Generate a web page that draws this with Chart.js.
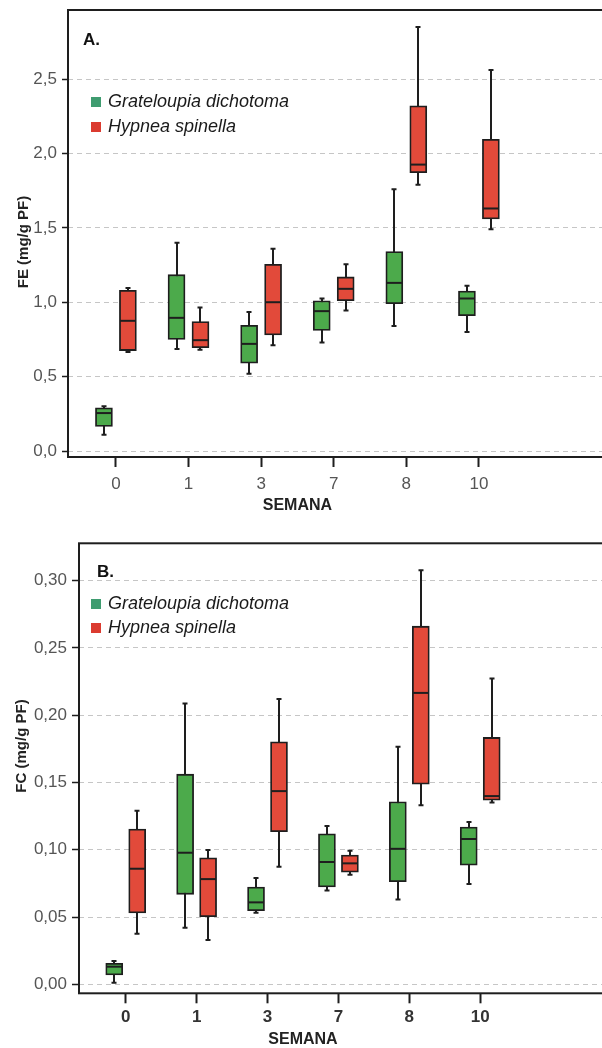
<!DOCTYPE html>
<html><head><meta charset="utf-8">
<script src="https://cdn.jsdelivr.net/npm/chart.js@4"></script>
<style>
html,body{margin:0;padding:0;background:#fff;overflow:hidden;}
#wrap{position:relative;width:602px;height:1048px;overflow:hidden;background:#fff;}
canvas{position:absolute;left:0;}
#cA{top:0;}
#cB{top:520px;}
</style></head><body>
<div id="wrap"><canvas id="cA" width="620" height="520"></canvas><canvas id="cB" width="620" height="528"></canvas></div>
<script>
// ---- data ----
const semanas = ['0', '1', '3', '7', '8', '10'];
const speciesNames = ['Grateloupia dichotoma', 'Hypnea spinella'];

// Panel A: FE (mg/g PF)
const grateloupiaFE_min = [0.11, 0.685, 0.52, 0.73, 0.84, 0.80];
const grateloupiaFE_q1  = [0.165, 0.75, 0.59, 0.81, 0.99, 0.91];
const grateloupiaFE_med = [0.255, 0.895, 0.72, 0.94, 1.13, 1.025];
const grateloupiaFE_q3  = [0.29, 1.185, 0.845, 1.01, 1.34, 1.075];
const grateloupiaFE_max = [0.30, 1.40, 0.935, 1.025, 1.76, 1.11];

const hypneaFE_min = [0.665, 0.68, 0.71, 0.945, 1.79, 1.49];
const hypneaFE_q1  = [0.675, 0.695, 0.78, 1.01, 1.87, 1.56];
const hypneaFE_med = [0.875, 0.745, 1.0, 1.09, 1.925, 1.63];
const hypneaFE_q3  = [1.08, 0.87, 1.255, 1.17, 2.32, 2.095];
const hypneaFE_max = [1.095, 0.965, 1.36, 1.255, 2.85, 2.56];

// Panel B: FC (mg/g PF)
const grateloupiaFC_min = [0.0012, 0.042, 0.0532, 0.0698, 0.0631, 0.0745];
const grateloupiaFC_q1  = [0.0069, 0.0669, 0.0547, 0.0723, 0.0762, 0.0886];
const grateloupiaFC_med = [0.0131, 0.0978, 0.0609, 0.0909, 0.1007, 0.108];
const grateloupiaFC_q3  = [0.0156, 0.1562, 0.0723, 0.1119, 0.1357, 0.1169];
const grateloupiaFC_max = [0.0173, 0.2088, 0.079, 0.1176, 0.1765, 0.1206];

const hypneaFC_min = [0.0376, 0.0329, 0.0874, 0.0814, 0.133, 0.1352];
const hypneaFC_q1  = [0.053, 0.0502, 0.1134, 0.0834, 0.1488, 0.1369];
const hypneaFC_med = [0.0859, 0.0782, 0.1436, 0.0899, 0.2166, 0.1399];
const hypneaFC_q3  = [0.1154, 0.094, 0.1802, 0.0961, 0.2662, 0.1835];
const hypneaFC_max = [0.129, 0.0998, 0.212, 0.0993, 0.3078, 0.2273];

const feTicks = [0, 0.5, 1.0, 1.5, 2.0, 2.5];
const fcTicks = [0, 0.05, 0.10, 0.15, 0.20, 0.25, 0.30];

// ---- styles ----
const GREEN = '#4caa4b', RED = '#e24a3a';
const LEG_GREEN = '#3f9c70', LEG_RED = '#db3b30';
const DARK = '#1e1e1e';
const FONT = '"Liberation Sans", Arial, sans-serif';

function boxSet(label, color, off, mn, q1, med, q3, mx) {
  return {
    label: label,
    data: semanas.map((s, i) => ({x: i + off, y: [q1[i], q3[i]]})),
    stats: {min: mn, med: med, max: mx, q1: q1, q3: q3, off: off},
    backgroundColor: color,
    borderColor: DARK,
    borderWidth: 1.8,
    borderSkipped: false,
    grouped: false,
    barThickness: 17
  };
}

const boxPlugin = {
  id: 'boxwhisk',
  beforeDatasetsDraw(chart) {
    const ctx = chart.ctx, xs = chart.scales.x, ys = chart.scales.y;
    ctx.save();
    ctx.strokeStyle = DARK; ctx.lineWidth = 2;
    chart.data.datasets.forEach(ds => {
      const st = ds.stats;
      semanas.forEach((s, i) => {
        const x = Math.round(xs.getPixelForValue(i + st.off));
        ctx.beginPath();
        ctx.moveTo(x, ys.getPixelForValue(st.min[i]));
        ctx.lineTo(x, ys.getPixelForValue(st.max[i]));
        ctx.stroke();
      });
    });
    ctx.restore();
  },
  afterDatasetsDraw(chart) {
    const ctx = chart.ctx, xs = chart.scales.x, ys = chart.scales.y;
    ctx.save();
    ctx.strokeStyle = DARK;
    chart.data.datasets.forEach(ds => {
      const st = ds.stats;
      semanas.forEach((s, i) => {
        const x = Math.round(xs.getPixelForValue(i + st.off));
        ctx.lineWidth = 2;
        const ymed = ys.getPixelForValue(st.med[i]);
        ctx.beginPath(); ctx.moveTo(x - 8, ymed); ctx.lineTo(x + 8, ymed); ctx.stroke();
        const ymax = ys.getPixelForValue(st.max[i]);
        const ymin = ys.getPixelForValue(st.min[i]);
        ctx.beginPath();
        ctx.moveTo(x - 2.5, ymax); ctx.lineTo(x + 2.5, ymax);
        ctx.moveTo(x - 2.5, ymin); ctx.lineTo(x + 2.5, ymin);
        ctx.stroke();
      });
    });
    ctx.restore();
  }
};

function decoPlugin(o) {
  return {
    id: 'deco',
    afterDraw(chart) {
      const ctx = chart.ctx, a = chart.chartArea, xs = chart.scales.x;
      ctx.save();
      // frame
      ctx.strokeStyle = DARK; ctx.lineWidth = 2;
      ctx.strokeRect(a.left, a.top, a.right - a.left, a.bottom - a.top);
      // panel letter
      ctx.fillStyle = '#111';
      ctx.font = 'bold 17px ' + FONT;
      ctx.textBaseline = 'alphabetic'; ctx.textAlign = 'left';
      ctx.fillText(o.letter, o.letterX, o.letterY);
      // legend
      const cols = [LEG_GREEN, LEG_RED];
      ctx.font = 'italic 18px ' + FONT;
      ctx.textBaseline = 'middle';
      chart.data.datasets.forEach((ds, k) => {
        const cy = o.legY + k * o.legGap;
        ctx.fillStyle = cols[k];
        ctx.fillRect(91, cy - 5, 10, 10);
        ctx.fillStyle = '#1a1a1a';
        ctx.fillText(ds.label, 108, cy);
      });
      // x title
      ctx.font = 'bold 16px ' + FONT;
      ctx.textAlign = 'center';
      ctx.fillStyle = '#222';
      ctx.fillText('SEMANA', xs.getPixelForValue(2.5), a.bottom + o.xTitleDy);
      // y title
      ctx.translate(o.yTitleX, o.yTitleY);
      ctx.rotate(-Math.PI / 2);
      ctx.font = 'bold 15px ' + FONT;
      ctx.fillText(o.yTitle, 0, 0);
      ctx.restore();
    }
  };
}

function makePanel(id, o) {
  new Chart(document.getElementById(id), {
    type: 'bar',
    data: {
      datasets: [
        boxSet(speciesNames[0], GREEN, -o.off, o.g[0], o.g[1], o.g[2], o.g[3], o.g[4]),
        boxSet(speciesNames[1], RED, o.off, o.h[0], o.h[1], o.h[2], o.h[3], o.h[4])
      ]
    },
    options: {
      responsive: false,
      animation: false,
      events: [],
      layout: {padding: {top: o.top, left: 0, right: 0, bottom: 0}},
      plugins: {legend: {display: false}, tooltip: {enabled: false}},
      scales: {
        x: {
          type: 'linear',
          min: o.xMin, max: o.xMax,
          offset: false,
          afterBuildTicks: s => { s.ticks = semanas.map((t, i) => ({value: i})); },
          afterFit: s => { s.height = o.xH; s.paddingLeft = 0; s.paddingRight = 0; },
          grid: {offset: false, drawOnChartArea: false, drawTicks: true, tickLength: 10, tickColor: DARK, tickWidth: 2},
          border: {display: false},
          ticks: {
            autoSkip: false, maxRotation: 0, padding: o.xPad,
            color: o.xTickColor,
            font: {family: FONT, size: 17, weight: o.xTickWeight},
            callback: v => semanas[v]
          }
        },
        y: {
          min: o.yMin, max: o.yMax,
          afterBuildTicks: s => { s.ticks = o.yTicks.map(v => ({value: v})); },
          afterFit: s => { s.width = o.yW; s.paddingTop = 0; s.paddingBottom = 0; },
          grid: {color: '#c6c6c6', lineWidth: 1, drawTicks: true, tickLength: o.yTickLen, tickColor: DARK, tickWidth: 1.5, tickBorderDash: []},
          border: {display: false, dash: [5, 4]},
          ticks: {
            autoSkip: false, padding: 5,
            color: '#555',
            font: {family: FONT, size: 17},
            callback: v => v.toFixed(o.dec).replace('.', ',')
          }
        }
      }
    },
    plugins: [boxPlugin, decoPlugin(o)]
  });
}

makePanel('cA', {
  top: 10, xH: 63, yW: 68, yTickLen: 6, xPad: 7,
  yMin: -0.0403, yMax: 2.964, yTicks: feTicks, dec: 1,
  xMin: -0.66, xMax: -0.66 + 552 / 72.6, off: 0.165,
  xTickColor: '#555', xTickWeight: 'normal',
  g: [grateloupiaFE_min, grateloupiaFE_q1, grateloupiaFE_med, grateloupiaFE_q3, grateloupiaFE_max],
  h: [hypneaFE_min, hypneaFE_q1, hypneaFE_med, hypneaFE_q3, hypneaFE_max],
  letter: 'A.', letterX: 83, letterY: 45,
  legY: 102, legGap: 25,
  xTitleDy: 49,
  yTitle: 'FE (mg/g PF)', yTitleX: 24, yTitleY: 242
});

makePanel('cB', {
  top: 23.3, xH: 54.7, yW: 79, yTickLen: 7, xPad: 4,
  yMin: -0.00669, yMax: 0.3278, yTicks: fcTicks, dec: 2,
  xMin: -0.659, xMax: -0.659 + 541 / 70.9, off: 0.162,
  xTickColor: '#333', xTickWeight: 'bold',
  g: [grateloupiaFC_min, grateloupiaFC_q1, grateloupiaFC_med, grateloupiaFC_q3, grateloupiaFC_max],
  h: [hypneaFC_min, hypneaFC_q1, hypneaFC_med, hypneaFC_q3, hypneaFC_max],
  letter: 'B.', letterX: 97, letterY: 57,
  legY: 84, legGap: 24,
  xTitleDy: 46,
  yTitle: 'FC (mg/g PF)', yTitleX: 22, yTitleY: 226
});
</script>
</body></html>
